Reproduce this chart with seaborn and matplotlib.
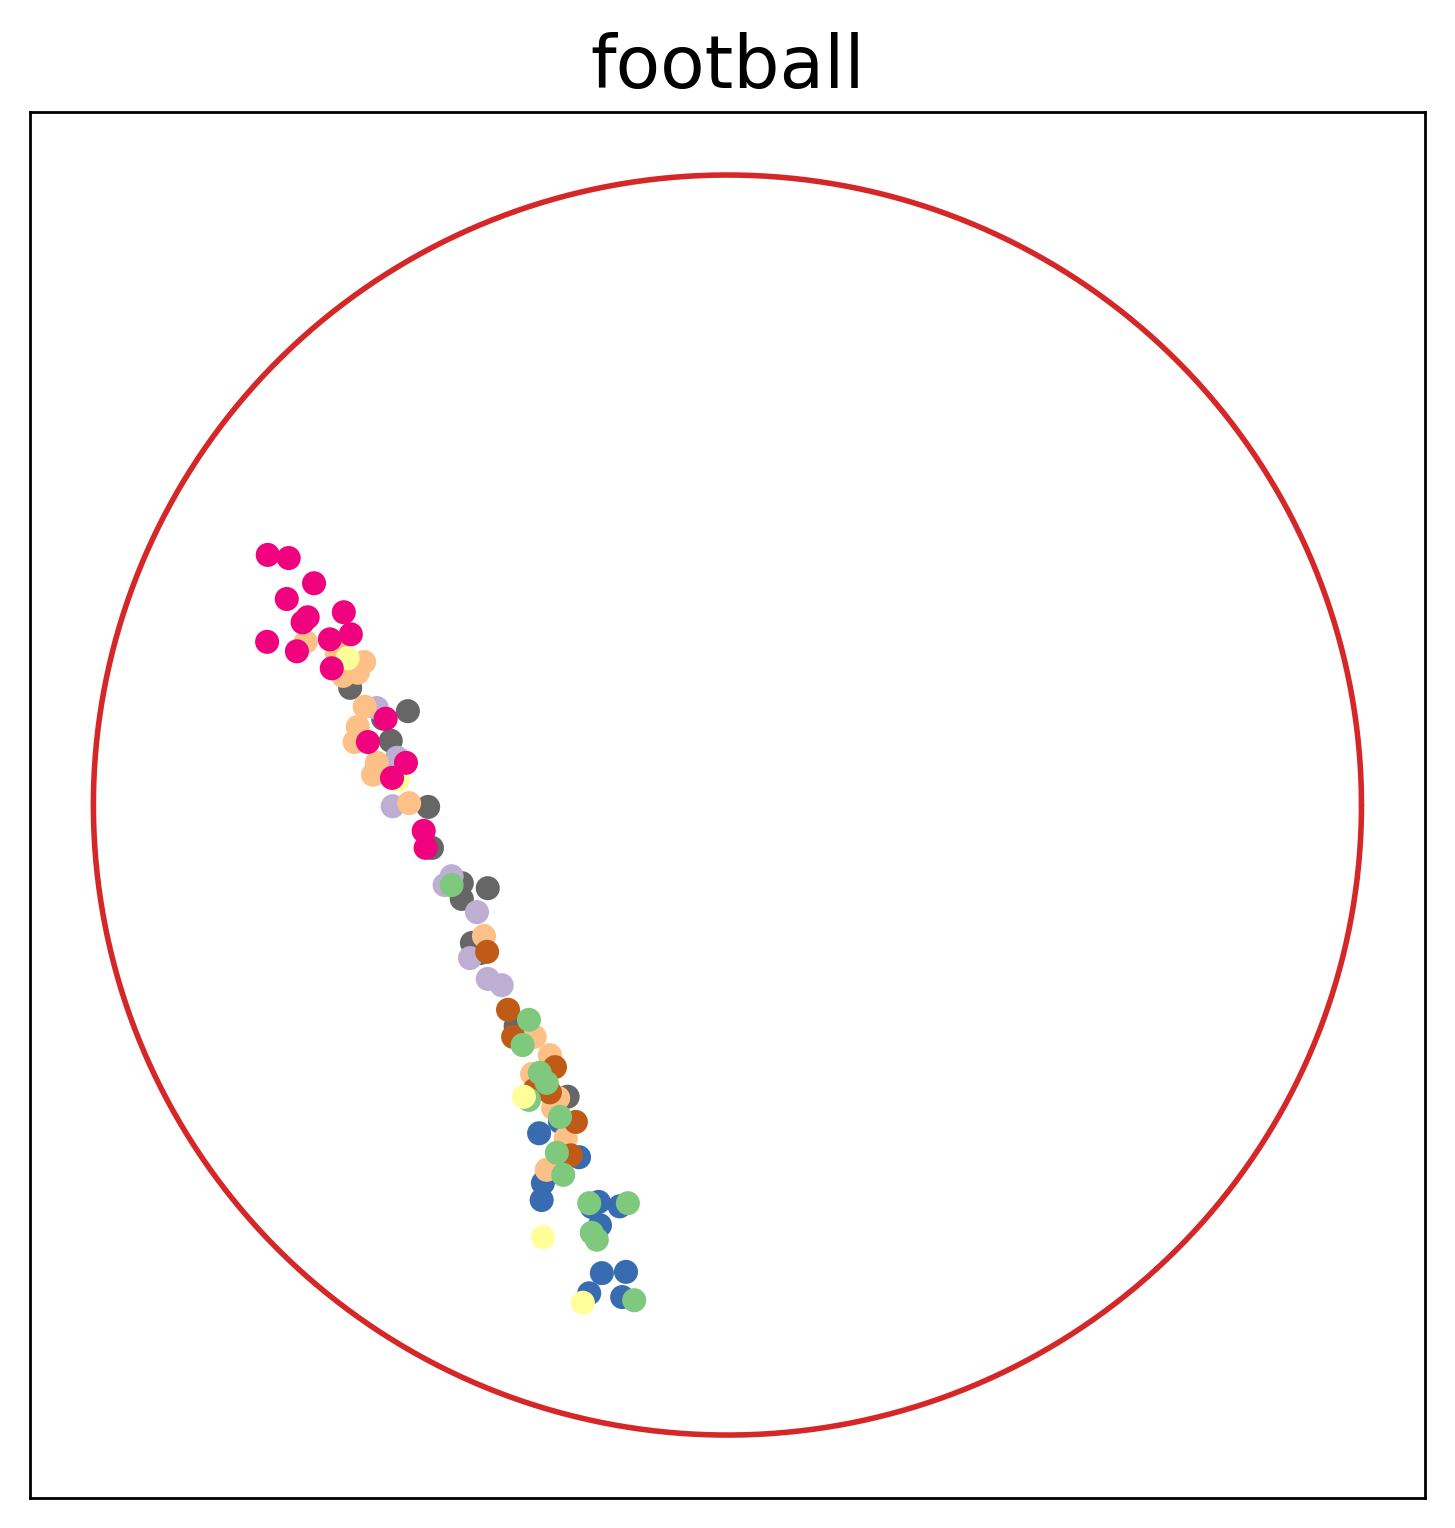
import numpy as np
import pandas as pd
import seaborn as sns
import matplotlib
matplotlib.use("Agg")
import matplotlib.pyplot as plt

# Poincare-disk embedding of the football graph, one list per community
blue_x = [-0.264, -0.297, -0.234, -0.291, -0.293, -0.203, -0.214, -0.170, -0.201, -0.198, -0.160, -0.218, -0.166]
blue_y = [-0.503, -0.521, -0.559, -0.600, -0.627, -0.630, -0.638, -0.637, -0.667, -0.743, -0.741, -0.775, -0.781]

gray_x = [-0.595, -0.543, -0.504, -0.531, -0.539, -0.472, -0.466, -0.419, -0.378, -0.419, -0.403, -0.390, -0.334, -0.252]
gray_y = [0.186, 0.137, 0.149, 0.102, 0.060, -0.003, -0.068, -0.124, -0.132, -0.149, -0.219, -0.235, -0.351, -0.463]

lavender_x = [-0.553, -0.521, -0.528, -0.446, -0.435, -0.395, -0.406, -0.378, -0.356]
lavender_y = [0.154, 0.075, -0.002, -0.127, -0.113, -0.170, -0.243, -0.276, -0.286]

orange_x = [-0.665, -0.616, -0.573, -0.606, -0.583, -0.572, -0.583, -0.588, -0.553, -0.559, -0.502,
            -0.384, -0.304, -0.280, -0.308, -0.267, -0.275, -0.255, -0.285]
orange_y = [0.259, 0.241, 0.227, 0.205, 0.210, 0.156, 0.124, 0.100, 0.067, 0.048, 0.003,
            -0.208, -0.368, -0.397, -0.427, -0.465, -0.481, -0.529, -0.579]

brown_x = [-0.379, -0.346, -0.338, -0.272, -0.304, -0.280, -0.239, -0.247]
brown_y = [-0.233, -0.325, -0.368, -0.416, -0.452, -0.456, -0.503, -0.556]

green_x = [-0.435, -0.313, -0.323, -0.296, -0.285, -0.313, -0.264, -0.269, -0.259, -0.218, -0.157, -0.214, -0.206, -0.147]
green_y = [-0.127, -0.341, -0.381, -0.425, -0.441, -0.468, -0.495, -0.552, -0.587, -0.632, -0.632, -0.679, -0.690, -0.786]

yellow_x = [-0.599, -0.520, -0.321, -0.291, -0.228]
yellow_y = [0.233, 0.040, -0.463, -0.686, -0.790]

pink_x = [-0.725, -0.692, -0.652, -0.695, -0.662, -0.670, -0.605, -0.594, -0.726, -0.679, -0.627, -0.624,
          -0.539, -0.567, -0.507, -0.529, -0.479, -0.476]
pink_y = [0.397, 0.392, 0.352, 0.327, 0.298, 0.290, 0.306, 0.271, 0.259, 0.244, 0.263, 0.217,
          0.137, 0.100, 0.067, 0.043, -0.041, -0.068]

groups = {
    "blue": (blue_x, blue_y, "#386cb0"),
    "gray": (gray_x, gray_y, "#666666"),
    "lavender": (lavender_x, lavender_y, "#beaed4"),
    "orange": (orange_x, orange_y, "#fdc086"),
    "brown": (brown_x, brown_y, "#bf5b17"),
    "green": (green_x, green_y, "#7fc97f"),
    "yellow": (yellow_x, yellow_y, "#ffff99"),
    "pink": (pink_x, pink_y, "#f0027f"),
}

frames = [pd.DataFrame({"x": gx, "y": gy, "group": name}) for name, (gx, gy, _) in groups.items()]
df = pd.concat(frames, ignore_index=True)
palette = {name: c for name, (_, _, c) in groups.items()}

sns.set_style("white")
plt.rcParams["font.family"] = ["DejaVu Sans"]

fig = plt.figure(figsize=(5.82, 6.112), dpi=250)
ax = fig.add_axes([0.0206, 0.0196, 0.9587, 0.9071])

# unit circle boundary
theta = np.linspace(0, 2 * np.pi, 600)
ax.plot(np.cos(theta), np.sin(theta), color="#d62728", lw=1.6, zorder=1)

sns.scatterplot(data=df, x="x", y="y", hue="group", palette=palette, s=48,
                linewidth=0, legend=False, ax=ax, zorder=2)

ax.set_xlim(-1.1, 1.1)
ax.set_ylim(-1.1, 1.1)
ax.set_xticks([])
ax.set_yticks([])
ax.set_xlabel("")
ax.set_ylabel("")
for sp in ax.spines.values():
    sp.set_visible(True)
    sp.set_color("black")
    sp.set_linewidth(0.8)
ax.set_title("football", fontsize=21, pad=7, color="black")

fig.savefig("out.png", dpi=250)
